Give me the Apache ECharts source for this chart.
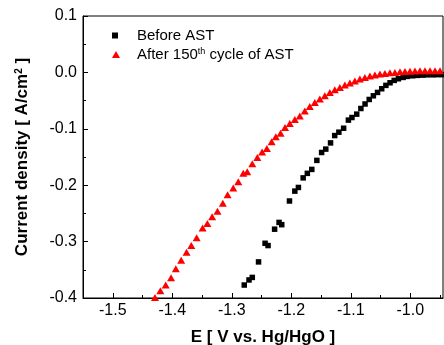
<!DOCTYPE html>
<html><head><meta charset="utf-8">
<script src="https://cdn.jsdelivr.net/npm/echarts@6/dist/echarts.min.js"></script>
<style>html,body{margin:0;padding:0;background:#fff}#c{width:444px;height:345px}</style>
</head><body><div id="c"></div>
<script>
// Before AST (black squares)
const beforeE = [-1.279,-1.271,-1.2655,-1.255,-1.244,-1.239,-1.228,-1.2205,-1.216,-1.203,-1.194,-1.188,-1.180,-1.173,-1.1655,-1.157,-1.149,-1.142,-1.134,-1.127,-1.120,-1.112,-1.104,-1.098,-1.090,-1.083,-1.076,-1.069,-1.062,-1.055,-1.048,-1.041,-1.034,-1.027,-1.020,-1.012,-1.005,-0.996,-0.988,-0.979,-0.971,-0.962,-0.954,-0.946];
const beforeJ = [-0.377,-0.368,-0.3635,-0.336,-0.303,-0.307,-0.278,-0.266,-0.270,-0.228,-0.2105,-0.204,-0.187,-0.179,-0.172,-0.156,-0.142,-0.136,-0.125,-0.112,-0.106,-0.099,-0.0846,-0.080,-0.074,-0.064,-0.056,-0.048,-0.0415,-0.0355,-0.029,-0.023,-0.0184,-0.0142,-0.0113,-0.0089,-0.0071,-0.006,-0.0053,-0.0048,-0.0043,-0.0043,-0.004,-0.004];
// After 150th cycle of AST (red triangles)
const afterE = [-1.429,-1.420,-1.411,-1.402,-1.394,-1.385,-1.376,-1.368,-1.359,-1.349,-1.341,-1.333,-1.324,-1.315,-1.307,-1.2975,-1.289,-1.2806,-1.274,-1.2655,-1.257,-1.249,-1.241,-1.233,-1.226,-1.218,-1.2105,-1.2025,-1.194,-1.1857,-1.1773,-1.1689,-1.1604,-1.152,-1.1436,-1.1352,-1.1268,-1.1183,-1.1099,-1.1015,-1.0931,-1.0847,-1.0763,-1.0678,-1.0594,-1.051,-1.0426,-1.0342,-1.0258,-1.0173,-1.0089,-1.0005,-0.9921,-0.9837,-0.9753,-0.9668,-0.9584,-0.950];
const afterJ = [-0.399,-0.387,-0.377,-0.364,-0.348,-0.333,-0.319,-0.307,-0.293,-0.276,-0.268,-0.256,-0.246,-0.232,-0.217,-0.205,-0.194,-0.179,-0.176,-0.162,-0.151,-0.141,-0.135,-0.123,-0.114,-0.108,-0.0976,-0.0905,-0.0834,-0.0775,-0.0686,-0.0606,-0.0535,-0.0473,-0.0415,-0.0358,-0.0308,-0.0266,-0.0225,-0.019,-0.0154,-0.0119,-0.0089,-0.0066,-0.0048,-0.003,-0.0018,-0.0005,0.0,0.001,0.0015,0.002,0.0025,0.003,0.003,0.003,0.003,0.003];
const xTicks = [-1.5,-1.4,-1.3,-1.2,-1.1,-1.0];
const xMinorTicks = [-1.45,-1.35,-1.25,-1.15,-1.05,-0.95];
const seriesNames = ['Before AST','After 150th cycle of AST'];

const FF = '"Liberation Sans", Arial, sans-serif';
const chart = echarts.init(document.getElementById('c'), null, {renderer:'canvas'});
const fmt1 = v => (Math.abs(v) < 1e-9 ? 0 : v).toFixed(1);
const legendText = {fontSize:15, color:'#000', fontFamily:FF,
  rich:{sup:{fontSize:9, fontFamily:FF, color:'#000', verticalAlign:'top', lineHeight:10}, n:{fontSize:15, fontFamily:FF, color:'#000'}}};
chart.setOption({
  animation:false,
  backgroundColor:'#fff',
  grid:{left:83, right:1, top:16, bottom:47, show:true, borderColor:'#000', borderWidth:1, backgroundColor:'transparent', containLabel:false, outerBoundsMode:'none'},
  legend:[{
    orient:'vertical', left:112, top:28, padding:0, itemWidth:6, itemHeight:6,
    data:[seriesNames[0]],
    textStyle:Object.assign({padding:[0,0,0,14]}, legendText)
  },{
    orient:'vertical', left:112, top:47, padding:0, itemWidth:8, itemHeight:7,
    data:[seriesNames[1]],
    textStyle:Object.assign({padding:[0,0,0,12]}, legendText),
    formatter: () => '{n|After 150}{sup|th}{n| cycle of AST}'
  }],
  xAxis:[{
    type:'value', min:-1.55, max:-0.945, position:'bottom',
    axisLine:{show:true, onZero:false, lineStyle:{color:'#000', width:1}},
    axisTick:{show:true, inside:true, length:5, customValues:xTicks, lineStyle:{color:'#000'}},
    axisLabel:{customValues:xTicks, formatter:fmt1, fontSize:16, color:'#000', margin:5, fontFamily:FF},
    splitLine:{show:false},
    name:'E [ V vs. Hg/HgO ]', nameLocation:'middle', nameGap:31,
    nameTextStyle:{fontSize:17, fontWeight:'bold', color:'#000', fontFamily:FF}
  },{
    type:'value', min:-1.55, max:-0.945, position:'bottom',
    axisLine:{show:false, onZero:false},
    axisTick:{show:true, inside:true, length:3, customValues:xMinorTicks, lineStyle:{color:'#000'}},
    axisLabel:{show:false},
    splitLine:{show:false}
  }],
  yAxis:{
    type:'value', min:-0.4, max:0.1, interval:0.1,
    axisLine:{show:true, onZero:false, lineStyle:{color:'#000', width:1}},
    axisTick:{show:true, inside:true, length:5, lineStyle:{color:'#000'}},
    minorTick:{show:true, splitNumber:2, length:3, lineStyle:{color:'#000'}},
    axisLabel:{formatter:fmt1, fontSize:16, color:'#000', margin:6, fontFamily:FF},
    splitLine:{show:false},
    name:'Current density [ A/cm{sup|2} ]', nameLocation:'middle', nameGap:52, nameRotate:90,
    nameTextStyle:{fontSize:17, fontWeight:'bold', color:'#000', fontFamily:FF,
      rich:{sup:{fontSize:10, fontWeight:'bold', fontFamily:FF, color:'#000', verticalAlign:'top', lineHeight:11}}}
  },
  series:[{
    type:'scatter', name:seriesNames[0], xAxisIndex:0,
    data: beforeE.map((e,i)=>[e, beforeJ[i]]),
    symbol:'rect', symbolSize:5.5, itemStyle:{color:'#000', opacity:1}
  },{
    type:'scatter', name:seriesNames[1], xAxisIndex:0,
    data: afterE.map((e,i)=>[e, afterJ[i]]),
    symbol:'triangle', symbolSize:[8,7], itemStyle:{color:'#ff0000', opacity:1}
  }]
});
</script></body></html>
